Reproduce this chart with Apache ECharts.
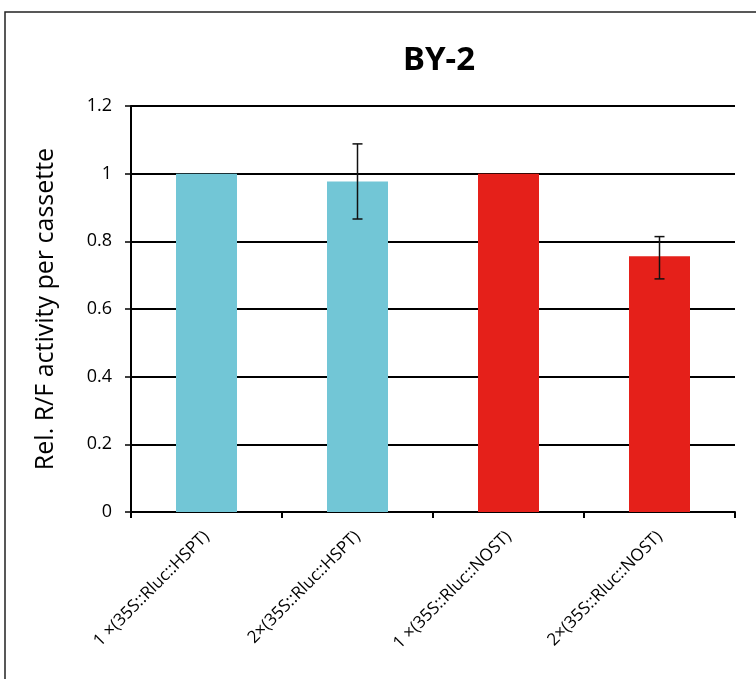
<!DOCTYPE html>
<html>
<head>
<meta charset="utf-8">
<script src="https://cdn.jsdelivr.net/npm/echarts@6/dist/echarts.min.js"></script>
<style>
  html, body { margin: 0; padding: 0; background: #fff; }
  #chart { width: 756px; height: 679px; }
</style>
</head>
<body>
<div id="chart"></div>
<script>
  // data
  const categories = ['1 ×(35S::Rluc::HSPT)', '2×(35S::Rluc::HSPT)', '1 ×(35S::Rluc::NOST)', '2×(35S::Rluc::NOST)'];
  const values = [1.0, 0.977, 1.0, 0.756];
  const errLow = [1.0, 0.866, 1.0, 0.689];
  const errHigh = [1.0, 1.088, 1.0, 0.814];
  const barColors = ['#72C6D6', '#72C6D6', '#E5201A', '#E5201A'];

  const chart = echarts.init(document.getElementById('chart'));

  const errData = categories.map((c, i) => [i, errLow[i], errHigh[i]]);

  const option = {
    animation: false,
    backgroundColor: '#fff',
    textStyle: { fontFamily: 'Open Sans' },
    graphic: [{
      type: 'rect',
      shape: { x: 5, y: 12, width: 900, height: 900 },
      style: { fill: 'none', stroke: '#222', lineWidth: 1.5 },
      z: -1
    }],
    title: {
      text: 'BY-2',
      left: 434, top: 39, textAlign: 'center',
      textStyle: { fontFamily: 'Noto Sans', fontWeight: 'bold', fontSize: 33, color: '#000' }
    },
    grid: { left: 131, right: 21, top: 106, bottom: 167 },
    xAxis: {
      type: 'category',
      data: categories,
      axisLine: { lineStyle: { color: '#000', width: 2 } },
      axisTick: { show: true, length: 6, lineStyle: { color: '#000', width: 2 } },
      axisLabel: { rotate: 45, fontSize: 17, color: '#000', margin: 22 }
    },
    yAxis: {
      type: 'value',
      min: 0, max: 1.2, interval: 0.2,
      name: 'Rel. R/F activity per cassette',
      nameLocation: 'middle',
      nameGap: 73,
      nameTextStyle: { fontSize: 25, color: '#000' },
      axisLine: { show: true, lineStyle: { color: '#000', width: 2 } },
      axisTick: { show: true, length: 6, lineStyle: { color: '#000', width: 1.5 } },
      axisLabel: { fontSize: 18, color: '#000', margin: 19, formatter: v => String(Math.round(v * 10) / 10) },
      splitLine: { lineStyle: { color: '#000', width: 2 } }
    },
    series: [
      {
        type: 'bar',
        barWidth: 61,
        data: values.map((v, i) => ({ value: v, itemStyle: { color: barColors[i] } })),
        z: 2
      },
      {
        type: 'custom',
        z: 3,
        data: errData,
        renderItem: function (params, api) {
          const i = api.value(0);
          if (api.value(1) === api.value(2)) return null;
          const lo = api.coord([i, api.value(1)]);
          const hi = api.coord([i, api.value(2)]);
          const hw = 5;
          const st = { stroke: '#111', lineWidth: 1.5 };
          return {
            type: 'group',
            children: [
              { type: 'line', shape: { x1: lo[0], y1: lo[1], x2: hi[0], y2: hi[1] }, style: st },
              { type: 'line', shape: { x1: lo[0] - hw, y1: lo[1], x2: lo[0] + hw, y2: lo[1] }, style: st },
              { type: 'line', shape: { x1: hi[0] - hw, y1: hi[1], x2: hi[0] + hw, y2: hi[1] }, style: st }
            ]
          };
        }
      }
    ]
  };

  chart.setOption(option);
</script>
</body>
</html>
